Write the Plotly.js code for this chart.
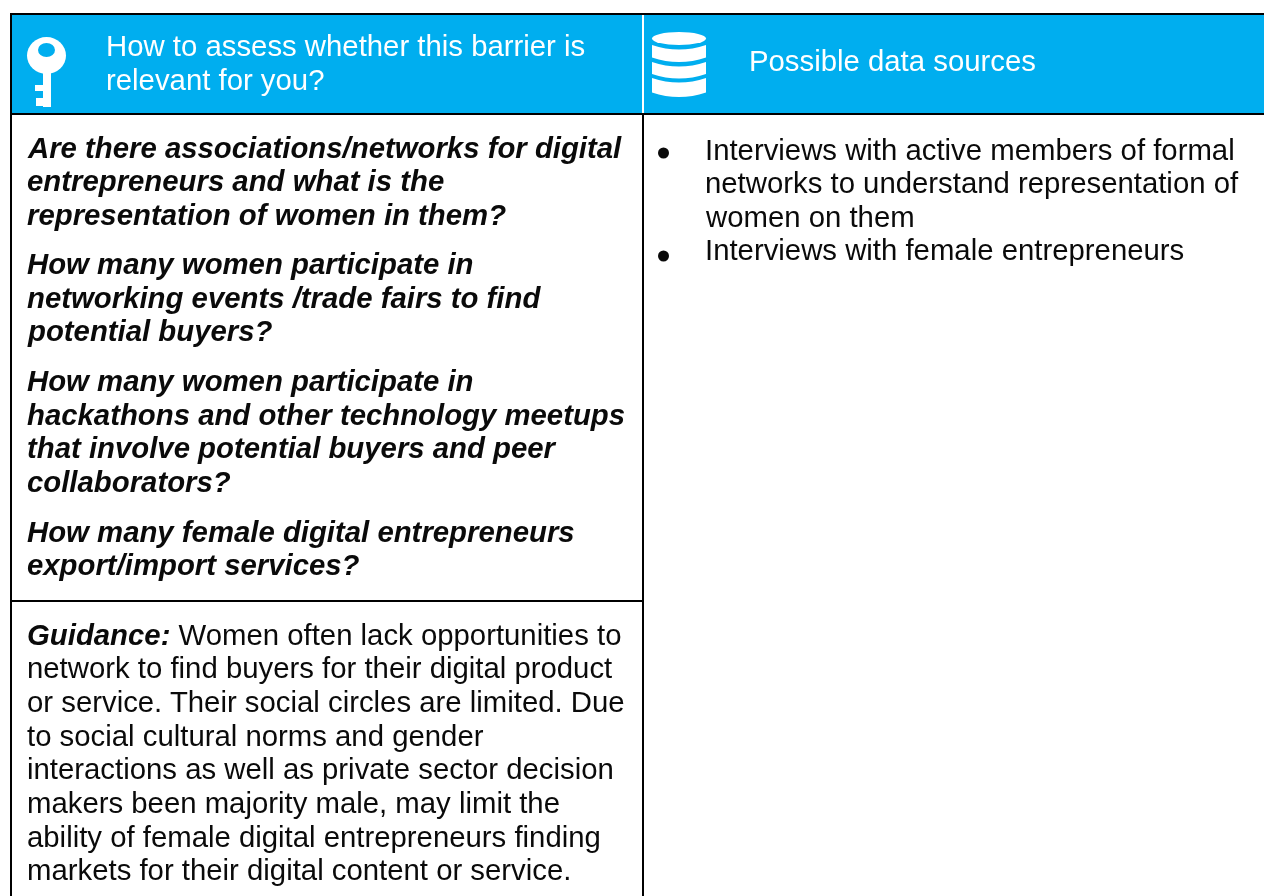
<!DOCTYPE html>
<html><head><meta charset="utf-8">
<script src="https://cdn.plot.ly/plotly-3.0.1.min.js"></script>
<style>html,body{margin:0;padding:0;background:#fff}#chart{filter:blur(0.35px)}</style></head>
<body><div id="chart" style="width:1264px;height:896px"></div>
<script>
const headerLeft = ["How to assess whether this barrier is", "relevant for you?"];
const headerRight = ["Possible data sources"];
const questions = [
 ["Are there associations/networks for digital", "entrepreneurs and what is the", "representation of women in them?"],
 ["How many women participate in", "networking events /trade fairs to find", "potential buyers?"],
 ["How many women participate in", "hackathons and other technology meetups", "that involve potential buyers and peer", "collaborators?"],
 ["How many female digital entrepreneurs", "export/import services?"]
];
const guidance = [
 "<b><i>Guidance:</i></b> Women often lack opportunities to",
 "network to find buyers for their digital product",
 "or service. Their social circles are limited. Due",
 "to social cultural norms and gender",
 "interactions as well as private sector decision",
 "makers been majority male, may limit the",
 "ability of female digital entrepreneurs finding",
 "markets for their digital content or service."
];
const sources = [
 ["Interviews with active members of formal", "networks to understand representation of", "women on them"],
 ["Interviews with female entrepreneurs"]
];

const FONT = "Liberation Sans, Arial, sans-serif";
const BLUE = "#00AEEF", INK = "#0a0a0a";
const STEP = 33.5, GAP = 16.4, SIZE = 29.33;
const annotations = [];
const put = (text, x, y, size, color) => annotations.push({
  text, x, y, xref:"x", yref:"y", xanchor:"left", yanchor:"middle", showarrow:false,
  align:"left", font:{family:FONT, size, color}, borderpad:0
});
headerLeft.forEach((t,i)=>put(t,105,45.5+i*33.5,SIZE,"#fff"));
headerRight.forEach(t=>put(t,748,60,SIZE,"#fff"));
let y = 147;
questions.forEach(block=>{
  block.forEach(t=>{ put("<b><i>"+t+"</i></b>",26,y,SIZE,INK); y+=STEP; });
  y += GAP;
});
guidance.forEach((t,i)=>put(t,26,634+i*33.7,SIZE,INK));
let sy = 149.5;
sources.forEach(block=>{
  block.forEach(t=>{ put(t,704,sy,SIZE,INK); sy+=33.4; });
});

const rect=(x0,y0,x1,y1,c)=>({type:"rect",xref:"x",yref:"y",x0,y0,x1,y1,fillcolor:c,line:{width:0},layer:"above"});
const oval=(x0,y0,x1,y1,c)=>({type:"circle",xref:"x",yref:"y",x0,y0,x1,y1,fillcolor:c,line:{width:0},layer:"above"});
const band=(y0,y1)=>({type:"path",xref:"x",yref:"y",fillcolor:"#fff",line:{width:0},layer:"above",
  path:`M652,${y0} Q679,${y0+9} 706,${y0} L706,${y1} Q679,${y1+9} 652,${y1} Z`});
const shapes=[
  rect(10,13,1264,115,BLUE),
  rect(10,13,1264,15,"#000"), rect(10,113,1264,115,"#000"),
  rect(10,13,12,896,"#000"), rect(642,113,644,896,"#000"),
  rect(642,15,644,113,"#fff"), rect(10,600,643,602,"#000"),
  oval(27,37,66,74,"#fff"), oval(38,43,55,57,BLUE),
  rect(43,70,51,107,"#fff"), rect(35,85,43,91,"#fff"), rect(36,98,43,106,"#fff"),
  oval(652,32,706,45,"#fff"), band(45,57.5), band(62,74), band(78,92.5),
  oval(658,147.5,669,158.5,INK), oval(658,250.5,669,261.5,INK)
];

Plotly.newPlot("chart",[{type:"scatter",x:[0,1264],y:[0,896],mode:"markers",marker:{opacity:0},hoverinfo:"skip",showlegend:false}],{
  width:1264,height:896,margin:{l:0,r:0,t:0,b:0},paper_bgcolor:"#fff",plot_bgcolor:"#fff",
  xaxis:{range:[0,1264],visible:false,fixedrange:true},
  yaxis:{range:[896,0],visible:false,fixedrange:true},
  shapes,annotations
},{displayModeBar:false,staticPlot:true});
</script></body></html>
